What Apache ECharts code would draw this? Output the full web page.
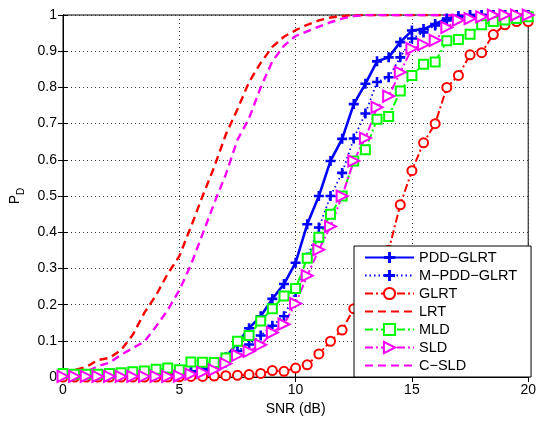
<!DOCTYPE html>
<html>
<head>
<meta charset="utf-8">
<script src="https://cdn.jsdelivr.net/npm/echarts@6/dist/echarts.min.js"></script>
<style>html,body{margin:0;padding:0;background:#fff}#main{width:539px;height:421px}</style>
</head>
<body>
<div id="main"></div>
<script>
// SNR (dB) sample points
var snr = [0,0.5,1,1.5,2,2.5,3,3.5,4,4.5,5,5.5,6,6.5,7,7.5,8,8.5,9,9.5,10,10.5,11,11.5,12,12.5,13,13.5,14,14.5,15,15.5,16,16.5,17,17.5,18,18.5,19,19.5,20];

// P_D curves
var pddGlrt = [0.005,0.005,0.005,0.005,0.005,0.006,0.007,0.008,0.008,0.01,0.01,0.015,0.02,0.03,0.055,0.095,0.135,0.168,0.216,0.257,0.316,0.422,0.5,0.597,0.658,0.754,0.81,0.872,0.883,0.925,0.957,0.961,0.975,0.99,0.997,1,1,1,1,1,1];
var mPddGlrt = [0.003,0.003,0.003,0.003,0.004,0.004,0.005,0.005,0.006,0.007,0.008,0.012,0.02,0.025,0.04,0.072,0.09,0.115,0.142,0.168,0.235,0.33,0.413,0.5,0.564,0.659,0.728,0.815,0.828,0.883,0.935,0.952,0.971,0.985,0.99,0.995,1,1,1,1,1];
var glrt = [0,0,0,0,0,0,0,0,0,0,0.001,0.002,0.002,0.003,0.004,0.005,0.007,0.01,0.018,0.016,0.025,0.034,0.064,0.099,0.13,0.189,0.24,0.29,0.35,0.476,0.57,0.647,0.7,0.8,0.833,0.89,0.896,0.946,0.973,0.982,0.982];
var lrt = [0.015,0.02,0.028,0.047,0.053,0.075,0.117,0.178,0.226,0.285,0.334,0.415,0.5,0.58,0.67,0.74,0.815,0.868,0.912,0.94,0.958,0.973,0.985,0.993,0.997,1,1,1,1,1,1,1,1,1,1,1,1,1,1,1,1];
var mld = [0.01,0.008,0.008,0.008,0.01,0.012,0.015,0.017,0.022,0.025,0.02,0.042,0.041,0.04,0.053,0.099,0.115,0.155,0.189,0.224,0.245,0.328,0.386,0.45,0.5,0.597,0.628,0.712,0.72,0.79,0.833,0.864,0.87,0.929,0.932,0.947,0.973,0.982,0.986,0.99,0.995];
var sld = [0.002,0.002,0.002,0.002,0.002,0.002,0.002,0.002,0.002,0.002,0.003,0.008,0.013,0.02,0.037,0.06,0.071,0.089,0.123,0.146,0.203,0.28,0.352,0.416,0.5,0.597,0.66,0.745,0.776,0.842,0.907,0.918,0.93,0.966,0.986,0.99,0.995,1,1,1,1];
var cSld = [0.005,0.01,0.015,0.03,0.04,0.062,0.08,0.098,0.14,0.185,0.24,0.31,0.395,0.48,0.56,0.655,0.715,0.8,0.872,0.915,0.942,0.955,0.968,0.98,0.99,0.997,1,1,1,1,1,1,1,1,1,1,1,1,1,1,1];

var names = ['PDD\u2212GLRT','M\u2212PDD\u2212GLRT','GLRT','LRT','MLD','SLD','C\u2212SLD'];

var FONT = '"Liberation Sans", Arial, Helvetica, sans-serif';
var plus = 'path://M-1.3,-5H1.3V-1.3H5V1.3H1.3V5H-1.3V1.3H-5V-1.3H-1.3Z';

function pairs(ys) {
  return snr.map(function (x, i) { return [x, ys[i]]; });
}

function mk(name, ys, color, width, type, symbol, size, rotate) {
  return {
    name: name,
    type: 'line',
    data: pairs(ys),
    symbol: symbol || 'none',
    showSymbol: !!symbol,
    symbolSize: size || 0,
    symbolRotate: rotate || 0,
    lineStyle: { color: color, width: width, type: type },
    itemStyle: { color: color, borderWidth: 1.8 },
    emphasis: { disabled: true }
  };
}

// legend entries; the plain dashed curves get no marker in the key
var legendData = names.map(function (n) {
  if (n === 'LRT' || n === 'C\u2212SLD') return { name: n, itemStyle: { opacity: 0 } };
  return { name: n };
});

var tickStyle = { inside: true, length: 5, lineStyle: { color: '#000' } };
var gridLine = { show: true, lineStyle: { color: '#333', type: [1, 3], width: 1 } };

var chart = echarts.init(document.getElementById('main'));
chart.setOption({
  animation: false,
  backgroundColor: '#fff',
  grid: { left: 63, right: 8, top: 15, bottom: 38, show: true, borderColor: '#000', borderWidth: 1 },
  legend: {
    orient: 'vertical', left: 354, top: 246,
    itemWidth: 49, itemHeight: 14, itemGap: 3,
    padding: [4, 14, 4, 10],
    backgroundColor: '#fff', borderColor: '#000', borderWidth: 1,
    textStyle: { fontSize: 14.5, lineHeight: 14, fontFamily: FONT, color: '#000' },
    data: legendData
  },
  xAxis: [{
    type: 'value', min: 0, max: 20, interval: 5,
    axisLine: { lineStyle: { color: '#000' } },
    axisTick: tickStyle,
    axisLabel: { color: '#000', fontSize: 14, fontFamily: FONT, margin: 6 },
    splitLine: gridLine,
    name: 'SNR (dB)', nameLocation: 'middle', nameGap: 16,
    nameTextStyle: { color: '#000', fontSize: 14, fontFamily: FONT }
  }, {
    type: 'value', min: 0, max: 20, interval: 5, position: 'top',
    axisLine: { lineStyle: { color: '#000' } },
    axisTick: tickStyle, axisLabel: { show: false }, splitLine: { show: false }
  }],
  yAxis: [{
    type: 'value', min: 0, max: 1, interval: 0.1,
    axisLine: { show: true, lineStyle: { color: '#000' } },
    axisTick: tickStyle,
    axisLabel: {
      color: '#000', fontSize: 14, fontFamily: FONT, margin: 6,
      formatter: function (v) { return String(Math.round(v * 10) / 10); }
    },
    splitLine: gridLine,
    name: '{p|P}{d|D}', nameLocation: 'middle', nameGap: 34, nameRotate: 90,
    nameTextStyle: {
      color: '#000', fontFamily: FONT,
      rich: {
        p: { fontSize: 14, fontFamily: FONT, color: '#000', lineHeight: 18, verticalAlign: 'top' },
        d: { fontSize: 10, fontFamily: FONT, color: '#000', lineHeight: 18, verticalAlign: 'bottom' }
      }
    }
  }, {
    type: 'value', min: 0, max: 1, interval: 0.1, position: 'right',
    axisLine: { show: true, lineStyle: { color: '#000' } },
    axisTick: tickStyle, axisLabel: { show: false }, splitLine: { show: false }
  }],
  series: [
    mk(names[0], pddGlrt, '#0000ff', 2.6, 'solid', plus, 10),
    mk(names[1], mPddGlrt, '#0000ff', 1.8, [1.5, 3], plus, 10),
    mk(names[2], glrt, '#ff0000', 2, [8, 3, 2, 3], 'emptyCircle', 9),
    mk(names[3], lrt, '#ff0000', 2.4, [8, 5]),
    mk(names[4], mld, '#00ff00', 2, [8, 3, 2, 3], 'emptyRect', 9),
    mk(names[5], sld, '#ff00ff', 2, [8, 3, 2, 3], 'emptyTriangle', 11, -90),
    mk(names[6], cSld, '#ff00ff', 2.4, [8, 5])
  ]
});
</script>
</body>
</html>
